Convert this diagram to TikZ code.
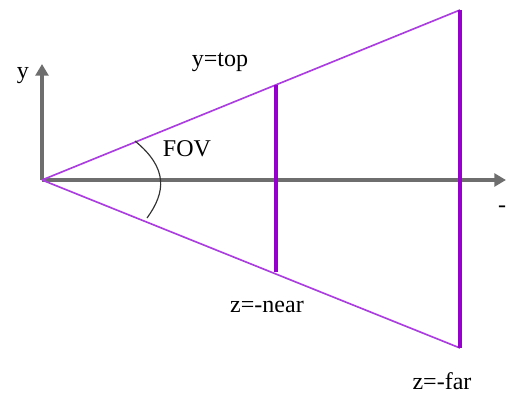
\documentclass[tikz,border=0pt]{standalone}
\usepackage{fontspec}
\setmainfont{Liberation Serif}
\usetikzlibrary{arrows.meta}
\definecolor{ejegris}{RGB}{110,110,110}
\definecolor{conolila}{RGB}{170,60,225}
\definecolor{planolila}{RGB}{150,0,205}
\tikzset{
  eje/.style={line width=3pt, ejegris, -{Triangle[length=10pt,width=11pt]}},
  cono/.style={line width=1.4pt, conolila},
  plano/.style={line width=2.8pt, planolila},
  etiqueta/.style={text=black, font=\fontsize{20.5}{24}\selectfont, inner sep=0pt}
}
\begin{document}
\begin{tikzpicture}[x=0.03cm, y=-0.03cm]
\useasboundingbox (0,0) rectangle (506,395);

% Puntos
\coordinate (O) at (42,180);
\coordinate (ytip) at (42,64);
\coordinate (xtip) at (506,180);
\coordinate (farT) at (460,10);
\coordinate (farB) at (460,348);
\coordinate (nearT) at (276,85);
\coordinate (nearB) at (276,272);
\coordinate (arcT) at (135,141);
\coordinate (arcB) at (147,218);

% Ejes
\draw [eje] (O) -- (ytip);
\draw [eje] (O) -- (xtip);

% Frustum
\draw [cono] (O) -- (farT);
\draw [cono] (O) -- (farB);
\draw [plano] (nearT) -- (nearB);
\draw [plano] (farT) -- (farB);

% Angulo
\draw [line width=1pt, black!80] (arcT) .. controls (168,168) and (166,192) .. (arcB);

% Etiquetas
\node [etiqueta] (ylab) at (23,76) {y};
\node [etiqueta] (toplab) at (220,62) {y=top};
\node [etiqueta] (fovlab) at (187,149) {FOV};
\node [etiqueta] (nearlab) at (267,307) {z=-near};
\node [etiqueta] (farlab) at (442,381) {z=-far};
\node [etiqueta, anchor=base west] (zlab) at (498,212) {-z};
\end{tikzpicture}
\end{document}
